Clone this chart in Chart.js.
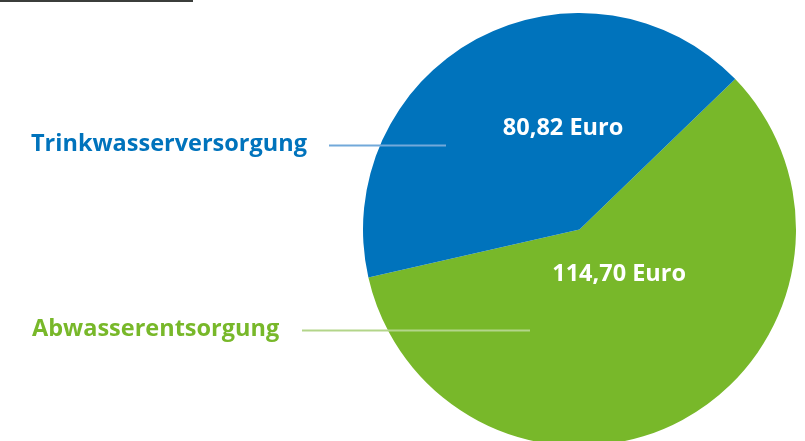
<!DOCTYPE html>
<html>
<head>
<meta charset="utf-8">
<script src="https://cdn.jsdelivr.net/npm/chart.js@4/dist/chart.umd.min.js"></script>
<style>
  html, body { margin: 0; padding: 0; background: #ffffff; overflow: hidden; width: 805px; height: 441px; }
  #wrap { position: absolute; left: 0; top: 0; width: 805px; height: 460px; }
</style>
</head>
<body>
<div id="wrap"><canvas id="c" width="805" height="460"></canvas></div>
<script>
const categories = ['Abwasserentsorgung', 'Trinkwasserversorgung'];
const values = [114.70, 80.82];
const valueLabels = ['114,70 Euro', '80,82 Euro'];
const colors = ['#78b82a', '#0073bc'];
const leaderColors = ['#b3d58a', '#72a9da'];

const labelPlugin = {
  id: 'labels',
  afterDatasetsDraw(chart) {
    const ctx = chart.ctx;
    const meta = chart.getDatasetMeta(0);
    const arc0 = meta.data[0];
    const cx = arc0.x, cy = arc0.y, r = arc0.outerRadius;
    ctx.save();
    // top rule
    ctx.fillStyle = '#3b3e3b';
    ctx.fillRect(0, 0, 193, 2);
    // value labels inside slices (offsets as fractions of radius)
    const valPos = [
      { fx: 0.183, fy: 0.201 },   // green
      { fx: -0.076, fy: -0.472 }  // blue
    ];
    ctx.font = 'bold 23.5px "Open Sans", sans-serif';
    ctx.fillStyle = '#ffffff';
    ctx.textAlign = 'center';
    ctx.textBaseline = 'middle';
    valueLabels.forEach((t, i) => {
      ctx.fillText(t, cx + valPos[i].fx * r, cy + valPos[i].fy * r + 1);
    });
    // category labels at left with leader lines
    const cat = [
      { y: cy + 101, x0: 32, lx0: 302, lx1: 530 },
      { y: cy - 84, x0: 31, lx0: 329, lx1: 446 }
    ];
    ctx.textAlign = 'left';
    ctx.textBaseline = 'alphabetic';
    ctx.font = 'bold 23.5px "Open Sans", sans-serif';
    categories.forEach((t, i) => {
      const c = cat[i];
      ctx.fillStyle = colors[i];
      ctx.fillText(t, c.x0, c.y + 5);
      ctx.strokeStyle = leaderColors[i];
      ctx.lineWidth = 2;
      ctx.beginPath();
      ctx.moveTo(c.lx0, c.y);
      ctx.lineTo(c.lx1, c.y);
      ctx.stroke();
    });
    ctx.restore();
  }
};

new Chart(document.getElementById('c'), {
  type: 'pie',
  data: {
    labels: categories,
    datasets: [{
      data: values,
      backgroundColor: colors,
      borderWidth: 0
    }]
  },
  options: {
    responsive: false,
    animation: false,
    rotation: 46,
    layout: { padding: { left: 363, right: 9, top: 13, bottom: 14 } },
    plugins: { legend: { display: false }, tooltip: { enabled: false } }
  },
  plugins: [labelPlugin]
});
</script>
</body>
</html>
